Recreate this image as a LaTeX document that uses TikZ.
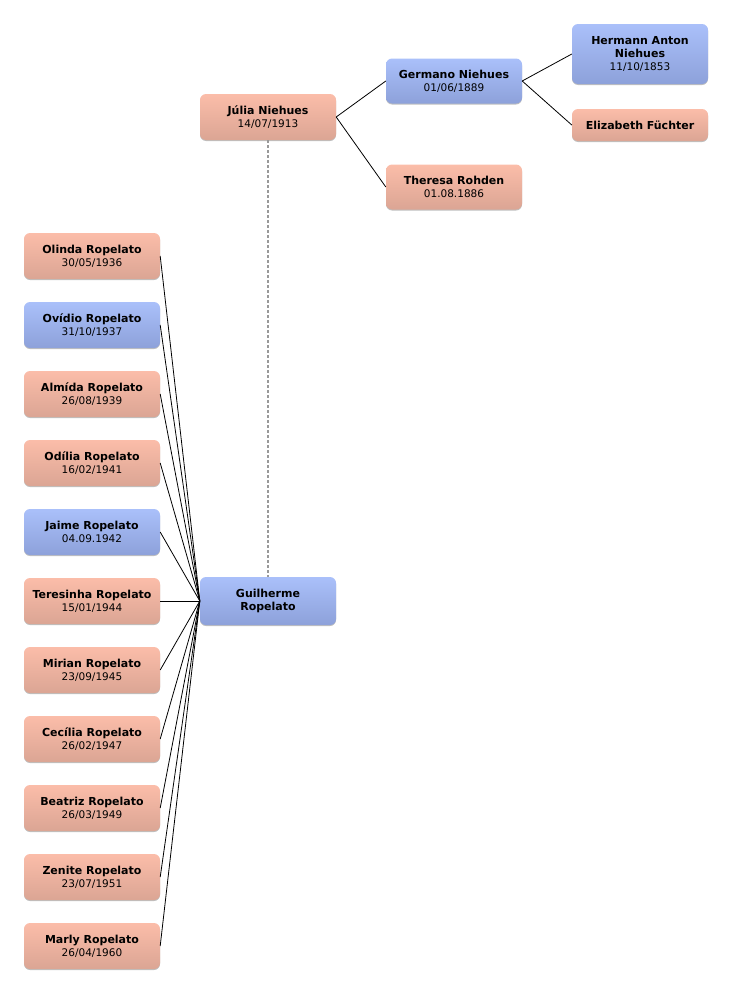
\documentclass[tikz,border=0pt]{standalone}
\usepackage{fontspec}
\setmainfont{DejaVu Sans}
\usetikzlibrary{shadows}
\definecolor{pinkT}{HTML}{FBBDA9}
\definecolor{pinkB}{HTML}{DBA594}
\definecolor{blueT}{HTML}{AAC0FA}
\definecolor{blueB}{HTML}{8DA1DA}
\tikzset{
  person/.style={rectangle, rounded corners=6pt, minimum width=136pt, minimum height=46pt,
    inner sep=0pt, align=center, font=\fontsize{10}{13}\selectfont,
    drop shadow={shadow xshift=0pt, shadow yshift=-1pt, opacity=0.25, fill=black}},
  female/.style={person, top color=pinkT, bottom color=pinkB},
  male/.style={person, top color=blueT, bottom color=blueB},
  link/.style={black, line width=0.8pt},
  spouse/.style={gray!80, line width=1.2pt, dash pattern=on 2.5pt off 2.5pt}
}
\newcommand{\nm}[1]{\textbf{\fontsize{11}{13}\selectfont #1}}
\newcommand{\dt}[1]{{\fontsize{10.5}{13}\selectfont #1}}
\newcommand{\pname}[2]{\nm{#1}\\\dt{#2}}
\begin{document}
\begin{tikzpicture}[x=1pt,y=-1pt]
\useasboundingbox (0,0) rectangle (732,993);
% ancestors
\node[female] (julia) at (268,117) {\pname{Júlia Niehues}{14/07/1913}};
\node[male, minimum height=45pt] (germano) at (454,81) {\pname{Germano Niehues}{01/06/1889}};
\node[female, minimum height=45pt] (theresa) at (454,187) {\pname{Theresa Rohden}{01.08.1886}};
\node[male, minimum height=60pt] (hermann) at (640,54) {\nm{Hermann Anton}\\\nm{Niehues}\\\dt{11/10/1853}};
\node[female, minimum height=32pt] (elizabeth) at (640,125) {\nm{Elizabeth Füchter}};
\node[male, minimum height=48pt] (guilherme) at (268,601) {\nm{Guilherme}\\\nm{Ropelato}};
% children
\node[female] (c1) at (92,256) {\pname{Olinda Ropelato}{30/05/1936}};
\node[male] (c2) at (92,325) {\pname{Ovídio Ropelato}{31/10/1937}};
\node[female] (c3) at (92,394) {\pname{Almída Ropelato}{26/08/1939}};
\node[female] (c4) at (92,463) {\pname{Odília Ropelato}{16/02/1941}};
\node[male] (c5) at (92,532) {\pname{Jaime Ropelato}{04.09.1942}};
\node[female] (c6) at (92,601) {\pname{Teresinha Ropelato}{15/01/1944}};
\node[female] (c7) at (92,670) {\pname{Mirian Ropelato}{23/09/1945}};
\node[female] (c8) at (92,739) {\pname{Cecília Ropelato}{26/02/1947}};
\node[female] (c9) at (92,808) {\pname{Beatriz Ropelato}{26/03/1949}};
\node[female] (c10) at (92,877) {\pname{Zenite Ropelato}{23/07/1951}};
\node[female] (c11) at (92,946) {\pname{Marly Ropelato}{26/04/1960}};
% connectors
\draw[link] (julia.east) -- (germano.west);
\draw[link] (julia.east) -- (theresa.west);
\draw[link] (germano.east) -- (hermann.west);
\draw[link] (germano.east) -- (elizabeth.west);
\draw[spouse] (julia.south) -- (guilherme.north);
\foreach \c in {c1,c2,c3,c4,c5,c6,c7,c8,c9,c10,c11}
  \draw[link] (\c.east) -- (guilherme.west);
\end{tikzpicture}
\end{document}
